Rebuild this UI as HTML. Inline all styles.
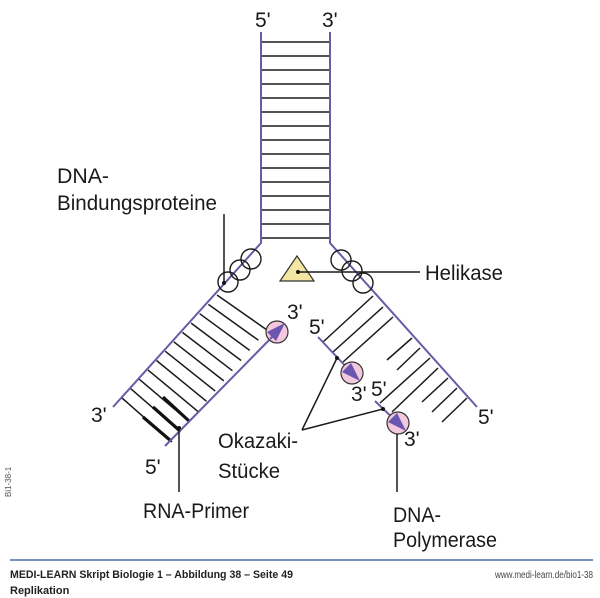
<!DOCTYPE html>
<html><head><meta charset="utf-8"><style>
html,body{margin:0;padding:0;background:#fff;}
svg{display:block;}
.l{font-family:"Liberation Sans",sans-serif;font-size:21px;fill:#1a1a1a;}
</style></head><body>
<svg width="600" height="598" viewBox="0 0 600 598" xmlns="http://www.w3.org/2000/svg">
<g stroke="#1a1a1a" stroke-width="1.5">
<line x1="261" y1="42" x2="330" y2="42"/><line x1="261" y1="56" x2="330" y2="56"/><line x1="261" y1="70" x2="330" y2="70"/><line x1="261" y1="84" x2="330" y2="84"/><line x1="261" y1="98" x2="330" y2="98"/><line x1="261" y1="112" x2="330" y2="112"/><line x1="261" y1="126" x2="330" y2="126"/><line x1="261" y1="140" x2="330" y2="140"/><line x1="261" y1="154" x2="330" y2="154"/><line x1="261" y1="168" x2="330" y2="168"/><line x1="261" y1="182" x2="330" y2="182"/><line x1="261" y1="196" x2="330" y2="196"/><line x1="261" y1="210" x2="330" y2="210"/><line x1="261" y1="224" x2="330" y2="224"/><line x1="261" y1="238" x2="330" y2="238"/>
<line x1="217" y1="295" x2="267" y2="330"/><line x1="208.4" y1="304.4" x2="258.4" y2="340.2"/><line x1="199.7" y1="313.7" x2="249.7" y2="350.4"/><line x1="191.1" y1="323.1" x2="241.1" y2="360.5"/><line x1="182.4" y1="332.4" x2="232.4" y2="370.7"/><line x1="173.8" y1="341.8" x2="223.8" y2="380.9"/><line x1="165.2" y1="351.2" x2="215.2" y2="391.1"/><line x1="156.5" y1="360.5" x2="206.5" y2="401.3"/><line x1="147.9" y1="369.9" x2="197.9" y2="411.4"/><line x1="139.2" y1="379.2" x2="189.2" y2="421.6"/><line x1="130.6" y1="388.6" x2="180.6" y2="431.8"/><line x1="122" y1="398" x2="172" y2="442"/>
<line x1="373" y1="296" x2="323" y2="342"/><line x1="383" y1="307" x2="333" y2="352"/><line x1="393" y1="317" x2="343" y2="362"/>
<line x1="412" y1="338" x2="387" y2="360"/><line x1="420" y1="348" x2="397" y2="370"/>
<line x1="430" y1="358" x2="380" y2="403"/><line x1="438" y1="368" x2="392" y2="412"/>
<line x1="448" y1="378" x2="422" y2="402"/><line x1="457" y1="388" x2="432" y2="412"/><line x1="467" y1="398" x2="442" y2="422"/>
</g>
<g stroke="#111" stroke-width="3.2">
<line x1="163" y1="397" x2="189" y2="421"/><line x1="153" y1="407" x2="180" y2="431"/><line x1="143" y1="417" x2="171" y2="441"/>
</g>
<g stroke="#6a5aa8" stroke-width="2" fill="none">
<polyline points="261,32 261,243 113,407"/>
<polyline points="330,32 330,243 477,407"/>
<line x1="277" y1="332" x2="165" y2="446"/>
<line x1="318" y1="337" x2="352" y2="373"/>
<line x1="375" y1="401" x2="398" y2="423"/>
</g>
<g fill="none" stroke="#1a1a1a" stroke-width="1.4">
<circle cx="228" cy="282" r="10"/><circle cx="240" cy="270" r="10"/><circle cx="251" cy="259" r="10"/>
<circle cx="341" cy="260" r="10"/><circle cx="352" cy="271" r="10"/><circle cx="363" cy="283" r="10"/>
</g>
<polygon points="297,256 280,281 314,281" fill="#f2e6a2" stroke="#333" stroke-width="1.2"/>
<g fill="#f3c8de" stroke="#333" stroke-width="1.2">
<circle cx="277" cy="332" r="11"/><circle cx="352" cy="373" r="11"/><circle cx="398" cy="423" r="11"/>
</g>
<g fill="#6a56b0">
<polygon points="285,323 276,341 267,332"/>
<line x1="277" y1="332" x2="270" y2="339" stroke="#6a56b0" stroke-width="2"/>
<polygon points="360,381 342,372 351,363"/>
<polygon points="406,431 388,422 397,413"/>
</g>
<g stroke="#1a1a1a" stroke-width="1.5" fill="none">
<line x1="298" y1="272" x2="420" y2="272"/>
<line x1="224" y1="214" x2="224" y2="283"/>
<line x1="337" y1="358" x2="302" y2="430"/><line x1="302" y1="430" x2="383" y2="409"/>
<line x1="179" y1="428" x2="179" y2="492"/>
<line x1="397" y1="434" x2="397" y2="492"/>
</g>
<g fill="#111">
<circle cx="298" cy="272" r="2"/><circle cx="224" cy="283" r="2"/><circle cx="337" cy="358" r="2"/><circle cx="383" cy="409" r="2"/><circle cx="179" cy="428" r="2"/>
</g>
<text class="l" x="255" y="27">5'</text><text class="l" x="322" y="27">3'</text>
<text class="l" x="57" y="183" textLength="52" lengthAdjust="spacingAndGlyphs">DNA-</text>
<text class="l" x="57" y="210" textLength="160" lengthAdjust="spacingAndGlyphs">Bindungsproteine</text>
<text class="l" x="425" y="280" textLength="78" lengthAdjust="spacingAndGlyphs">Helikase</text>
<text class="l" x="287" y="319">3'</text>
<text class="l" x="309" y="334">5'</text>
<text class="l" x="351" y="401">3'</text>
<text class="l" x="371" y="396">5'</text>
<text class="l" x="404" y="446">3'</text>
<text class="l" x="478" y="424">5'</text>
<text class="l" x="91" y="422">3'</text>
<text class="l" x="145" y="474">5'</text>
<text class="l" x="218" y="448" textLength="80" lengthAdjust="spacingAndGlyphs">Okazaki-</text>
<text class="l" x="218" y="478" textLength="62" lengthAdjust="spacingAndGlyphs">Stücke</text>
<text class="l" x="143" y="518" textLength="106" lengthAdjust="spacingAndGlyphs">RNA-Primer</text>
<text class="l" x="393" y="522" textLength="48" lengthAdjust="spacingAndGlyphs">DNA-</text>
<text class="l" x="393" y="547" textLength="104" lengthAdjust="spacingAndGlyphs">Polymerase</text>
<line x1="10" y1="560" x2="593" y2="560" stroke="#4a6fa8" stroke-width="1.5"/>
<text x="10" y="578" font-family="Liberation Sans, sans-serif" font-size="11" font-weight="bold" fill="#222" textLength="283" lengthAdjust="spacingAndGlyphs">MEDI-LEARN Skript Biologie 1 – Abbildung 38 – Seite 49</text>
<text x="10" y="594" font-family="Liberation Sans, sans-serif" font-size="11" font-weight="bold" fill="#222">Replikation</text>
<text x="593" y="578" text-anchor="end" font-family="Liberation Sans, sans-serif" font-size="10" fill="#444" textLength="98" lengthAdjust="spacingAndGlyphs">www.medi-learn.de/bio1-38</text>
<text x="0" y="0" transform="translate(11,497) rotate(-90)" font-family="Liberation Sans, sans-serif" font-size="8" fill="#555">Bi1-38-1</text>
</svg>
</body></html>
